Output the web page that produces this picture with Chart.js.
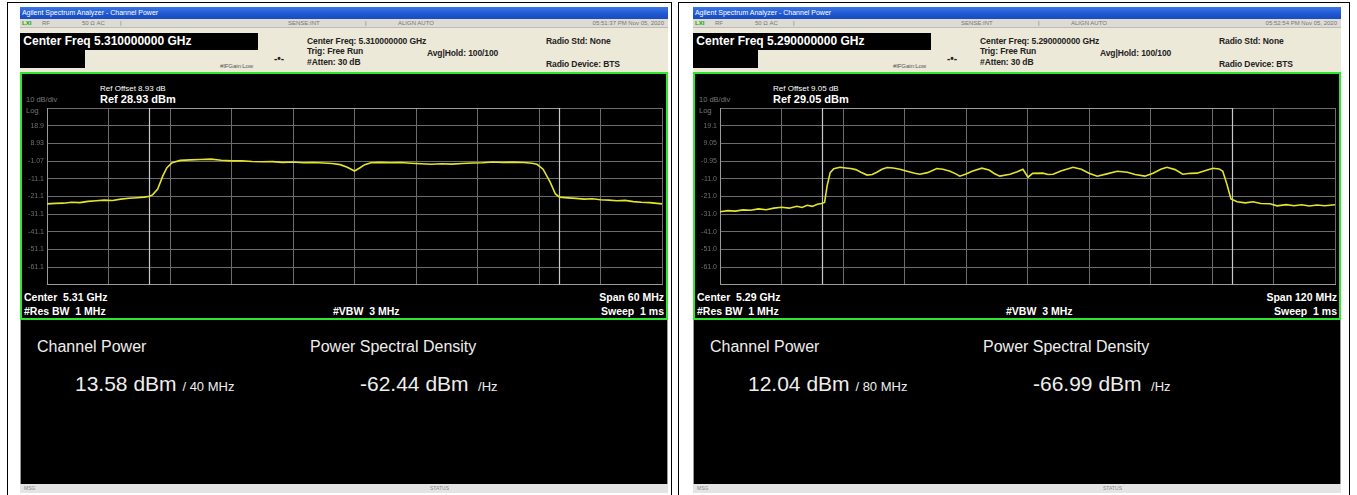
<!DOCTYPE html>
<html>
<head>
<meta charset="utf-8">
<script src="https://cdn.jsdelivr.net/npm/chart.js@4.4.1/dist/chart.umd.min.js"></script>
<style>
  html,body{margin:0;padding:0;background:#fff;}
  body{width:1357px;height:495px;position:relative;overflow:hidden;font-family:"Liberation Sans",Arial,sans-serif;}
  .abs{position:absolute;white-space:nowrap;}
  .frame{position:absolute;border:1.5px solid #000;}
  .shot{position:absolute;width:648px;height:486px;top:7px;background:#ece9d8;}
  .title{position:absolute;left:0;top:0;width:648px;height:12px;background:linear-gradient(#3b78e6,#1f55d0 60%,#1a4cc0);color:#fff;font-size:7px;line-height:12px;}
  .tool{position:absolute;left:0;top:12px;width:648px;height:8px;background:#dedbd2;color:#777;font-size:6px;line-height:8px;border-bottom:1px solid #bbb;}
  .cf{position:absolute;left:0;top:26px;width:238px;height:17px;background:#000;color:#fff;font-weight:bold;font-size:12px;line-height:17px;}
  .cfsub{position:absolute;left:0;top:43px;width:65px;height:18px;background:#000;}
  .inf{position:absolute;font-size:8.5px;font-weight:bold;color:#222;white-space:nowrap;letter-spacing:-0.1px;}
  .disp{position:absolute;left:0;top:65px;width:644px;height:244px;background:#000;border:2px solid #2ee82e;}
  .res{position:absolute;left:0;top:313px;width:646px;height:164px;background:#000;border-left:1px solid #999;border-right:1px solid #999;}
  .stat{position:absolute;left:0;top:477px;width:648px;height:9px;background:#e4e4e4;color:#888;font-size:5px;line-height:9px;}
  .wt{color:#fff;font-weight:bold;font-size:10.5px;position:absolute;white-space:nowrap;}
  .gt{color:#777;font-size:7.5px;position:absolute;white-space:nowrap;}
  .big{color:#eee;position:absolute;white-space:nowrap;}
  canvas{position:absolute;}
</style>
</head>
<body>
<div class="frame" style="left:7px;top:2px;width:663px;height:494px;"></div>
<div class="frame" style="left:678px;top:2px;width:670px;height:494px;"></div>
<div id="panels"></div>
<script>
// ---------- DATA ----------
// Left trace: frequency (MHz) and level (dBm)
const leftFreq = [5280.0,5280.8,5281.6,5282.4,5283.2,5284.0,5284.8,5285.6,5286.4,5287.2,5288.0,5288.8,5289.5,5290.0,5290.3,5290.8,5291.3,5291.7,5292.2,5293.0,5294.0,5295.0,5296.0,5297.0,5298.0,5299.0,5300.0,5301.0,5302.0,5303.0,5304.0,5305.0,5306.0,5307.0,5307.8,5308.6,5309.3,5310.0,5310.5,5311.0,5311.6,5312.5,5313.5,5314.5,5315.5,5316.5,5317.5,5318.5,5319.5,5320.5,5321.5,5322.5,5323.5,5324.5,5325.5,5326.5,5327.3,5327.8,5328.4,5329.1,5329.6,5330.0,5330.8,5331.6,5332.4,5333.2,5334.0,5334.8,5335.6,5336.4,5337.2,5338.0,5338.8,5339.5,5340.0];
const leftLevel = [-25.3,-25.0,-24.9,-24.4,-24.6,-23.9,-23.5,-23.2,-23.4,-22.6,-22.1,-21.8,-21.5,-21.0,-20.2,-16.9,-9.5,-4.8,-2.0,-0.7,-0.4,-0.2,0.0,-0.6,-1.0,-0.9,-1.3,-1.5,-1.4,-1.8,-1.6,-2.0,-1.9,-2.2,-2.5,-3.1,-4.6,-6.7,-5.0,-3.1,-2.0,-1.8,-2.0,-1.9,-2.3,-2.6,-2.9,-2.6,-2.8,-2.5,-2.2,-2.0,-1.6,-1.8,-1.7,-1.9,-2.3,-2.9,-5.7,-13.1,-19.7,-21.5,-21.9,-22.2,-22.6,-22.4,-23.0,-23.2,-23.5,-23.3,-24.0,-24.4,-24.6,-25.0,-25.3];
// Right trace
const rightFreq = [5230.0,5231.5,5233.0,5234.5,5236.0,5237.5,5239.0,5240.5,5242.0,5243.5,5245.0,5246.0,5247.0,5248.0,5249.0,5249.8,5250.4,5250.9,5251.5,5252.2,5253.4,5254.5,5255.5,5256.5,5257.5,5258.7,5259.7,5260.6,5261.6,5262.6,5263.8,5265.1,5266.5,5268.0,5269.0,5270.5,5272.3,5273.5,5274.9,5276.0,5276.8,5278.0,5279.2,5281.1,5282.5,5283.5,5284.6,5286.6,5288.0,5289.1,5290.1,5291.0,5293.0,5294.0,5295.0,5296.5,5298.9,5300.5,5302.0,5303.6,5305.5,5307.5,5309.5,5311.0,5312.9,5314.5,5316.0,5317.2,5318.8,5320.3,5321.8,5323.1,5324.6,5326.2,5327.4,5328.1,5328.9,5329.7,5330.9,5332.5,5334.0,5335.5,5337.3,5338.7,5340.5,5342.0,5343.5,5345.0,5346.5,5348.0,5350.0];
const rightLevel = [-29.6,-29.0,-29.3,-28.6,-28.8,-28.0,-28.5,-27.6,-27.1,-27.6,-26.5,-27.2,-26.0,-26.6,-25.4,-25.0,-24.4,-15.0,-7.5,-5.3,-4.5,-4.9,-5.2,-5.8,-7.3,-8.9,-8.6,-7.3,-5.6,-4.6,-4.9,-5.6,-6.7,-7.9,-8.4,-7.5,-5.2,-5.6,-6.7,-8.2,-9.5,-8.3,-6.7,-5.0,-6.0,-8.0,-9.5,-8.4,-7.0,-5.6,-10.1,-7.9,-7.8,-8.6,-8.4,-6.6,-4.5,-5.6,-7.8,-9.5,-8.2,-6.7,-7.3,-8.6,-9.5,-7.9,-5.6,-4.5,-5.8,-8.4,-7.9,-7.8,-6.4,-5.0,-5.4,-6.7,-14.0,-22.4,-24.0,-24.6,-24.0,-25.0,-25.1,-26.3,-25.6,-26.2,-25.7,-26.4,-25.8,-26.2,-25.7];

// Graticule ticks (dBm) and labels
const leftYTicks = [28.93,18.93,8.93,-1.07,-11.07,-21.07,-31.07,-41.07,-51.07,-61.07,-71.07];
const leftYLabels = ["","18.9","8.93","-1.07","-11.1","-21.1","-31.1","-41.1","-51.1","-61.1",""];
const rightYTicks = [29.05,19.05,9.05,-0.95,-10.95,-20.95,-30.95,-40.95,-50.95,-60.95,-70.95];
const rightYLabels = ["","19.1","9.05","-0.95","-11.0","-21.0","-31.0","-41.0","-51.0","-61.0",""];
// Frequency graticule (MHz)
const leftXTicks = [5280,5286,5292,5298,5304,5310,5316,5322,5328,5334,5340];
const rightXTicks = [5230,5242,5254,5266,5278,5290,5302,5314,5326,5338,5350];
// Channel bandwidth edges (MHz)
const leftChannel = [5290,5330];
const rightChannel = [5250,5330];

// ---------- PANELS ----------
const panels = [
  {x:20, cf:"5.310000000", time:"05:51:37 PM Nov 05, 2020", refOff:"8.93", ref:"28.93", center:"5.31 GHz", span:"60 MHz",
   cp:"13.58", bw:"40 MHz", psd:"-62.44", freq:leftFreq, level:leftLevel, yt:leftYTicks, yl:leftYLabels, xt:leftXTicks, ch:leftChannel},
  {x:693, cf:"5.290000000", time:"05:52:54 PM Nov 05, 2020", refOff:"9.05", ref:"29.05", center:"5.29 GHz", span:"120 MHz",
   cp:"12.04", bw:"80 MHz", psd:"-66.99", freq:rightFreq, level:rightLevel, yt:rightYTicks, yl:rightYLabels, xt:rightXTicks, ch:rightChannel}
];

const host = document.getElementById('panels');
panels.forEach((p, i) => {
  const s = document.createElement('div');
  s.className = 'shot';
  s.style.left = p.x + 'px';
  s.innerHTML = `
    <div class="title">&nbsp;Agilent Spectrum Analyzer - Channel Power</div>
    <div class="tool"><span class="abs" style="left:2px;color:#0a0;font-weight:bold">LXI</span><span class="abs" style="left:22px">RF</span><span class="abs" style="left:62px">50 &Omega; AC</span><span class="abs" style="left:100px">|</span><span class="abs" style="left:268px">SENSE:INT</span><span class="abs" style="left:345px">|</span><span class="abs" style="left:378px">ALIGN AUTO</span><span class="abs" style="right:4px">${p.time}</span></div>
    <div class="cf">&nbsp;Center Freq ${p.cf} GHz</div>
    <div class="cfsub"></div>
    <div class="inf" style="left:287px;top:29px">Center Freq: ${p.cf} GHz</div>
    <div class="inf" style="left:287px;top:39px">Trig: Free Run</div>
    <div class="inf" style="left:407px;top:41px">Avg|Hold: 100/100</div>
    <div class="inf" style="left:287px;top:50px">#Atten: 30 dB</div>
    <div class="inf" style="left:254px;top:46px;font-size:10px">-&#8226;-</div>
    <div class="inf" style="left:200px;top:56px;font-size:6px;font-weight:normal;color:#555">#IFGain:Low</div>
    <div class="inf" style="left:526px;top:29px">Radio Std: None</div>
    <div class="inf" style="left:526px;top:52px">Radio Device: BTS</div>
    <div class="disp"></div>
    <div class="gt" style="left:6px;top:88px">10 dB/div</div>
    <div class="gt" style="left:6px;top:99px">Log</div>
    <div class="wt" style="left:80px;top:77px;font-size:8px;font-weight:normal">Ref Offset ${p.refOff} dB</div>
    <div class="wt" style="left:80px;top:86px;font-size:11px">Ref ${p.ref} dBm</div>
    <div class="wt" style="left:4px;top:284px">Center&nbsp; ${p.center}</div>
    <div class="wt" style="right:4px;top:284px">Span ${p.span}</div>
    <div class="wt" style="left:4px;top:298px">#Res BW&nbsp; 1 MHz</div>
    <div class="wt" style="left:313px;top:298px">#VBW&nbsp; 3 MHz</div>
    <div class="wt" style="right:4px;top:298px">Sweep&nbsp; 1 ms</div>
    <div class="res"></div>
    <div class="big" style="left:17px;top:331px;font-size:16px">Channel Power</div>
    <div class="big" style="left:290px;top:331px;font-size:16px">Power Spectral Density</div>
    <div class="big" style="left:55px;top:365px;font-size:21px">${p.cp} dBm <span style="font-size:13px">/ ${p.bw}</span></div>
    <div class="big" style="left:340px;top:365px;font-size:21px">${p.psd} dBm <span style="font-size:13px">&nbsp;/Hz</span></div>
    <div class="stat"><span class="abs" style="left:4px">MSG</span><span class="abs" style="left:410px">STATUS</span></div>
  `;
  host.appendChild(s);

  const c = document.createElement('canvas');
  c.width = 645; c.height = 194;
  c.style.left = (p.x + 1) + 'px';
  c.style.top = '98px';
  document.body.appendChild(c);

  const trace = p.freq.map((f, k) => ({x: f, y: p.level[k]}));
  const top = p.yt[0], bot = p.yt[p.yt.length - 1];
  const bracket = [{x:p.ch[0], y:bot},{x:p.ch[0], y:top},{x:p.ch[1], y:top},{x:p.ch[1], y:bot}];

  new Chart(c, {
    type: 'scatter',
    data: {
      datasets: [
        {data: trace, showLine: true, borderColor: '#e4e42a', borderWidth: 1.6, pointRadius: 0, tension: 0, order: 0},
        {data: bracket, showLine: true, borderColor: '#c9c9c9', borderWidth: 1.2, pointRadius: 0, tension: 0, order: 1}
      ]
    },
    options: {
      responsive: false,
      animation: false,
      events: [],
      layout: {padding: {top: 10, right: 4, bottom: 5, left: 0}},
      plugins: {legend: {display: false}, tooltip: {enabled: false}},
      scales: {
        x: {
          type: 'linear', min: p.xt[0], max: p.xt[p.xt.length - 1],
          afterBuildTicks: sc => { sc.ticks = p.xt.map(v => ({value: v})); },
          afterFit: sc => { sc.height = 0; },
          ticks: {display: false},
          grid: {color: '#6c6c6c', lineWidth: 1, drawTicks: false},
          border: {display: true, color: '#9a9a9a'}
        },
        y: {
          type: 'linear', min: bot, max: top,
          afterBuildTicks: sc => { sc.ticks = p.yt.map(v => ({value: v})); },
          afterFit: sc => { sc.width = 26; },
          ticks: {
            color: '#6e6e6e', font: {family: 'Liberation Sans', size: 7}, padding: 3,
            callback: (v, idx) => p.yl[idx]
          },
          grid: {color: '#6c6c6c', lineWidth: 1, drawTicks: false},
          border: {display: true, color: '#9a9a9a'}
        }
      }
    }
  });
});
</script>
</body>
</html>
